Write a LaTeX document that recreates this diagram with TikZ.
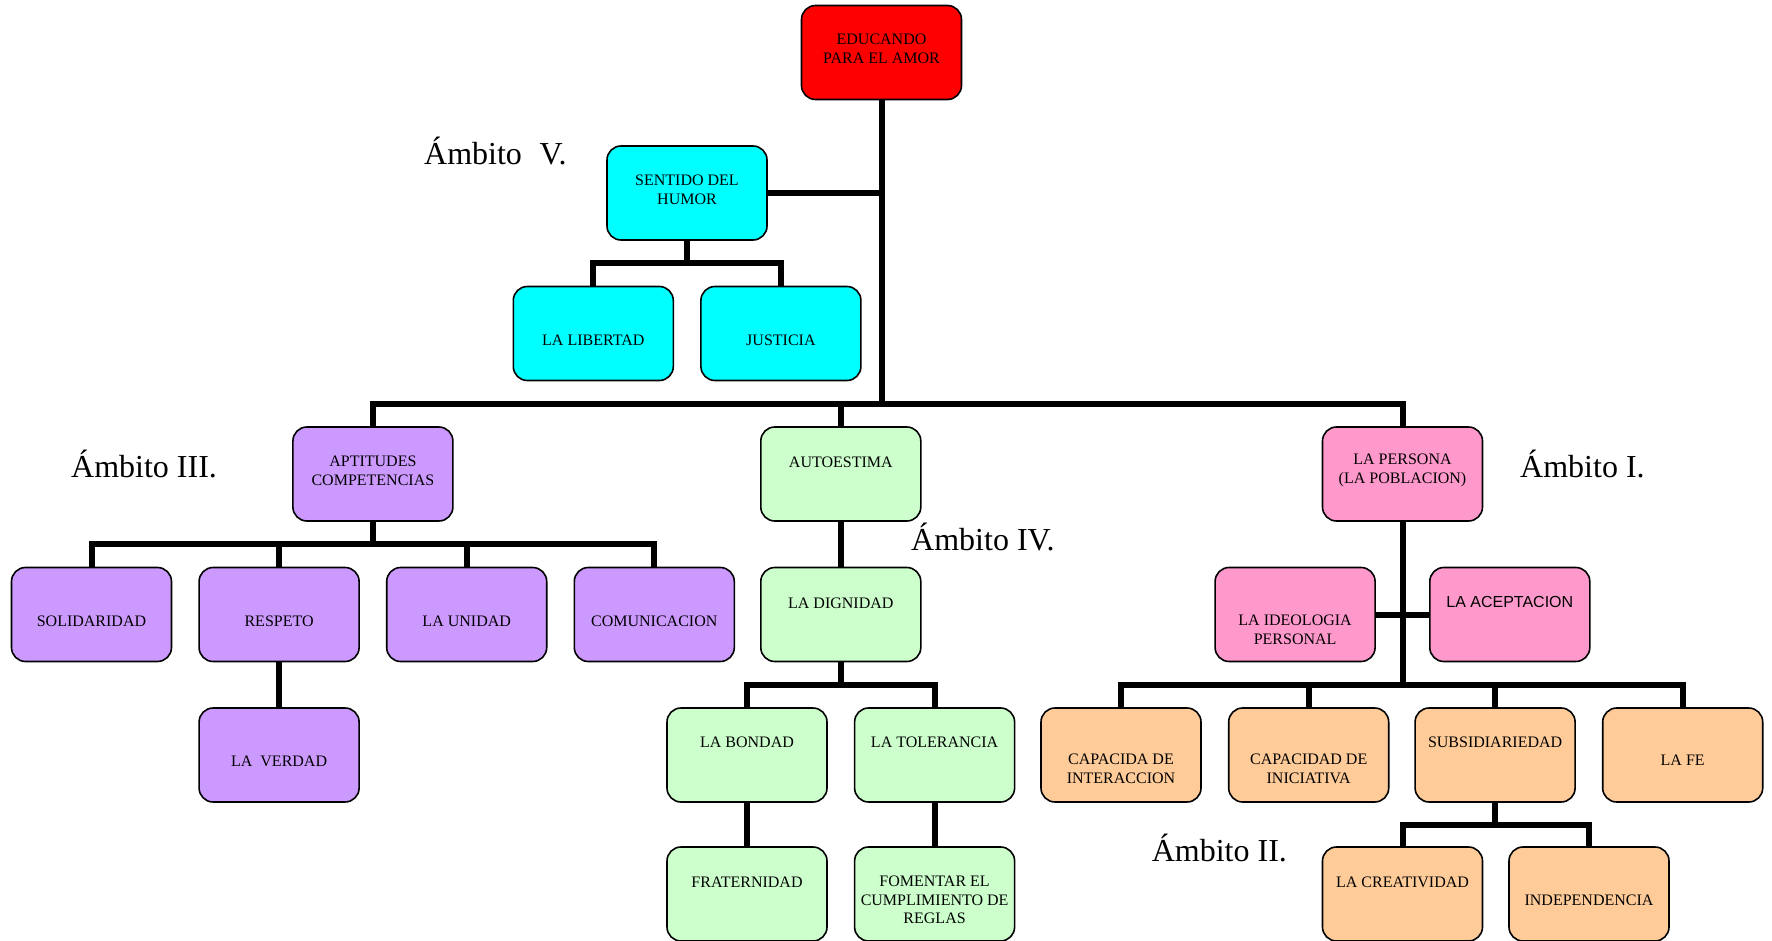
\documentclass[tikz,border=0pt]{standalone}
\usepackage{fontspec}
\setmainfont{Liberation Serif}
\newfontfamily\arialfont{Liberation Sans}
\definecolor{cRed}{HTML}{FF0000}
\definecolor{cCyan}{HTML}{00FFFF}
\definecolor{cPurple}{HTML}{CC99FF}
\definecolor{cGreen}{HTML}{CCFFCC}
\definecolor{cPink}{HTML}{FF99CC}
\definecolor{cPeach}{HTML}{FFCC99}
\begin{document}
\begin{tikzpicture}[x=1pt,y=-1pt,
  box/.style={draw=black, line width=1.6pt, rounded corners=14pt, minimum width=160pt, minimum height=94pt, inner sep=0pt},
  txt/.style={font=\fontsize{16}{18.6}\selectfont, align=center, inner sep=0pt, text=black},
  conn/.style={line width=6pt, draw=black, line join=miter},
  amb/.style={font=\fontsize{32}{37}\selectfont, anchor=base west, inner sep=0pt}]
\fill[white] (0,0) rectangle (1772,941);
\useasboundingbox (0,0) rectangle (1772,941);

% bar coordinates
\coordinate (m0)  at (881.5,403.75);
\coordinate (m1)  at (687,263.25);
\coordinate (m3)  at (372.9,544.25);
\coordinate (m4d) at (840.8,684.75);
\coordinate (m4p) at (1402.5,684.75);
\coordinate (m5)  at (1495.1,824.5);

% boxes
\node[box, fill=cRed]    (edu)  at (881.5,52.5) {};
\node[box, fill=cCyan]   (sen)  at (687,193) {};
\node[box, fill=cCyan]   (lib)  at (593.3,333.5) {};
\node[box, fill=cCyan]   (jus)  at (780.9,333.5) {};
\node[box, fill=cPurple] (apt)  at (372.9,474) {};
\node[box, fill=cGreen]  (aut)  at (840.8,474) {};
\node[box, fill=cPink]   (per)  at (1402.5,474) {};
\node[box, fill=cPurple] (sol)  at (91.5,614.5) {};
\node[box, fill=cPurple] (res)  at (279.1,614.5) {};
\node[box, fill=cPurple] (uni)  at (466.7,614.5) {};
\node[box, fill=cPurple] (com)  at (654.3,614.5) {};
\node[box, fill=cGreen]  (dig)  at (840.8,614.5) {};
\node[box, fill=cPink]   (ideo) at (1295.1,614.5) {};
\node[box, fill=cPink]   (acep) at (1509.8,614.5) {};
\node[box, fill=cPurple] (ver)  at (279.1,755) {};
\node[box, fill=cGreen]  (bon)  at (747,755) {};
\node[box, fill=cGreen]  (tol)  at (934.6,755) {};
\node[box, fill=cPeach]  (capa) at (1121,755) {};
\node[box, fill=cPeach]  (capb) at (1308.7,755) {};
\node[box, fill=cPeach]  (sub)  at (1495.1,755) {};
\node[box, fill=cPeach]  (fe)   at (1682.7,755) {};
\node[box, fill=cGreen]  (fra)  at (747,894) {};
\node[box, fill=cGreen]  (fom)  at (934.6,894) {};
\node[box, fill=cPeach]  (cre)  at (1402.5,894) {};
\node[box, fill=cPeach]  (ind)  at (1589,894) {};

% texts
\node[txt, yshift=3.5pt]  (edu-t)  at (edu.center)  {EDUCANDO\\PARA EL AMOR};
\node[txt, yshift=3.5pt]  (sen-t)  at (sen.center)  {SENTIDO DEL\\HUMOR};
\node[txt, yshift=-6.5pt] (lib-t)  at (lib.center)  {LA LIBERTAD};
\node[txt, yshift=-6.5pt] (jus-t)  at (jus.center)  {JUSTICIA};
\node[txt, yshift=3.5pt]  (apt-t)  at (apt.center)  {APTITUDES\\COMPETENCIAS};
\node[txt, yshift=11.5pt] (aut-t)  at (aut.center)  {AUTOESTIMA};
\node[txt, yshift=3.5pt]  (per-t)  at (per.center)  {LA PERSONA\\(LA POBLACION)};
\node[txt, yshift=-6.5pt] (sol-t)  at (sol.center)  {SOLIDARIDAD};
\node[txt, yshift=-6.5pt] (res-t)  at (res.center)  {RESPETO};
\node[txt, yshift=-6.5pt] (uni-t)  at (uni.center)  {LA UNIDAD};
\node[txt, yshift=-6.5pt] (com-t)  at (com.center)  {COMUNICACION};
\node[txt, yshift=11.5pt] (dig-t)  at (dig.center)  {LA DIGNIDAD};
\node[txt, yshift=-15pt]  (ideo-t) at (ideo.center) {LA IDEOLOGIA\\PERSONAL};
\node[txt, yshift=12.5pt, font=\arialfont\fontsize{16}{18.6}\selectfont] (acep-t) at (acep.center) {LA ACEPTACION};
\node[txt, yshift=-6pt]   (ver-t)  at (ver.center)  {LA\ \ VERDAD};
\node[txt, yshift=12.5pt] (bon-t)  at (bon.center)  {LA BONDAD};
\node[txt, yshift=12.5pt] (tol-t)  at (tol.center)  {LA TOLERANCIA};
\node[txt, yshift=-14pt]  (capa-t) at (capa.center) {CAPACIDA DE\\INTERACCION};
\node[txt, yshift=-14pt]  (capb-t) at (capb.center) {CAPACIDAD DE\\INICIATIVA};
\node[txt, yshift=12.5pt] (sub-t)  at (sub.center)  {SUBSIDIARIEDAD};
\node[txt, yshift=-5.5pt] (fe-t)   at (fe.center)   {LA FE};
\node[txt, yshift=12pt]   (fra-t)  at (fra.center)  {FRATERNIDAD};
\node[txt, yshift=-6pt]   (fom-t)  at (fom.center)  {FOMENTAR EL\\CUMPLIMIENTO DE\\REGLAS};
\node[txt, yshift=12pt]   (cre-t)  at (cre.center)  {LA CREATIVIDAD};
\node[txt, yshift=-6pt]   (ind-t)  at (ind.center)  {INDEPENDENCIA};

% connectors
\draw[conn] (edu.south) -- (edu.south |- m0);
\draw[conn] (sen.east) -- (sen.east -| edu.south);
\draw[conn] (apt.north) |- (m0) -| (per.north);
\draw[conn] (aut.north) -- (aut.north |- m0);

\draw[conn] (sen.south) -- (m1);
\draw[conn] (lib.north) |- (m1) -| (jus.north);

\draw[conn] (apt.south) -- (m3);
\draw[conn] (sol.north) |- (m3) -| (com.north);
\draw[conn] (res.north) -- (res.north |- m3);
\draw[conn] (uni.north) -- (uni.north |- m3);
\draw[conn] (res.south) -- (ver.north);

\draw[conn] (aut.south) -- (dig.north);
\draw[conn] (dig.south) -- (m4d);
\draw[conn] (bon.north) |- (m4d) -| (tol.north);
\draw[conn] (bon.south) -- (fra.north);
\draw[conn] (tol.south) -- (fom.north);

\draw[conn] (per.south) -- (m4p);
\draw[conn] (ideo.east) -- (acep.west);
\draw[conn] (capa.north) |- (m4p) -| (fe.north);
\draw[conn] (capb.north) -- (capb.north |- m4p);
\draw[conn] (sub.north) -- (sub.north |- m4p);

\draw[conn] (sub.south) -- (m5);
\draw[conn] (cre.north) |- (m5) -| (ind.north);

% ambito labels
\node[amb] (a5) at (424,165) {Ámbito\hspace{0.55em}V.};
\node[amb] (a3) at (71,477) {Ámbito III.};
\node[amb] (a4) at (911,550) {Ámbito IV.};
\node[amb] (a1) at (1520,477) {Ámbito I.};
\node[amb] (a2) at (1151.6,861) {Ámbito II.};
\end{tikzpicture}
\end{document}
